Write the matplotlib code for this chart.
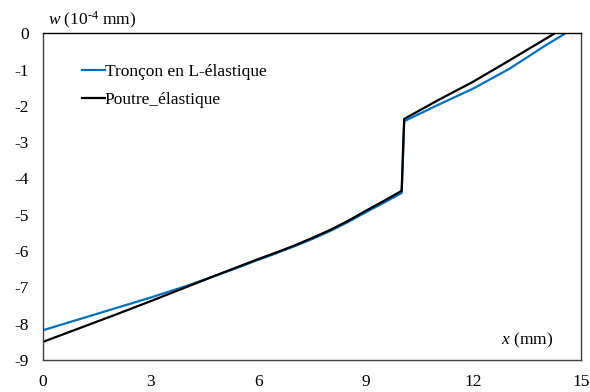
import matplotlib.pyplot as plt

plt.rcParams['font.family'] = 'Liberation Serif'
plt.rcParams['mathtext.fontset'] = 'custom'
plt.rcParams['mathtext.rm'] = 'Liberation Serif'
plt.rcParams['mathtext.it'] = 'Liberation Serif:italic'

# Tronçon en L-élastique (blue)
x_blue = [0, 1, 2, 3, 4, 5, 5.5, 6, 6.5, 7, 7.5, 8, 8.5, 9, 9.5, 10, 10.07,
          11, 12, 13, 14, 14.57]
y_blue = [-8.18, -7.88, -7.58, -7.28, -6.96, -6.61, -6.43, -6.24, -6.06, -5.87, -5.67,
          -5.45, -5.20, -4.93, -4.67, -4.40, -2.42, -1.98, -1.52, -0.98, -0.34, 0]

# Poutre_élastique (black)
x_black = [0, 1, 2, 3, 4, 5, 5.5, 6, 6.5, 7, 7.5, 8, 8.5, 9, 9.5, 10, 10.07,
           11, 12, 13, 14.27]
y_black = [-8.50, -8.13, -7.76, -7.38, -6.99, -6.60, -6.41, -6.22, -6.04, -5.85, -5.64,
           -5.42, -5.17, -4.89, -4.62, -4.34, -2.36, -1.85, -1.33, -0.75, 0]

x_ticks = [0, 3, 6, 9, 12, 15]
y_ticks = [0, -1, -2, -3, -4, -5, -6, -7, -8, -9]

fs = 12.5

fig = plt.figure(figsize=(5.9, 3.92), dpi=100)
ax = fig.add_axes([43/590, 1-360/392, 538/590, (360-33.3)/392])

ax.plot(x_blue, y_blue, color='#0070C0', lw=1.6, label='Tronçon en L-élastique')
ax.plot(x_black, y_black, color='black', lw=1.6, label='Poutre_élastique')

ax.set_xlim(0, 15)
ax.set_ylim(-9, 0)
ax.set_xticks(x_ticks)
ax.set_yticks(y_ticks)
ax.set_yticklabels([str(v) for v in y_ticks])
ax.tick_params(length=0, pad=10, labelsize=fs)

for s in ['left', 'bottom', 'right']:
    ax.spines[s].set_color('#404040')
ax.spines['top'].set_color('black')
for s in ax.spines.values():
    s.set_linewidth(1.0)

ax.legend(loc='upper left', bbox_to_anchor=(0.0725, 0.905), frameon=False,
          borderpad=0, borderaxespad=0, handlelength=1.3, handletextpad=0.0,
          labelspacing=0.68, fontsize=fs)

fig.text(48/590, 1-20/392, r'$w$ (10$^{\text{-4}}$ mm)', fontsize=fs, va='center', ha='left')
ax.text(0.948, 0.061, '$x$ (mm)', transform=ax.transAxes, fontsize=fs, ha='right', va='center')

fig.savefig('out.png', dpi=100)
